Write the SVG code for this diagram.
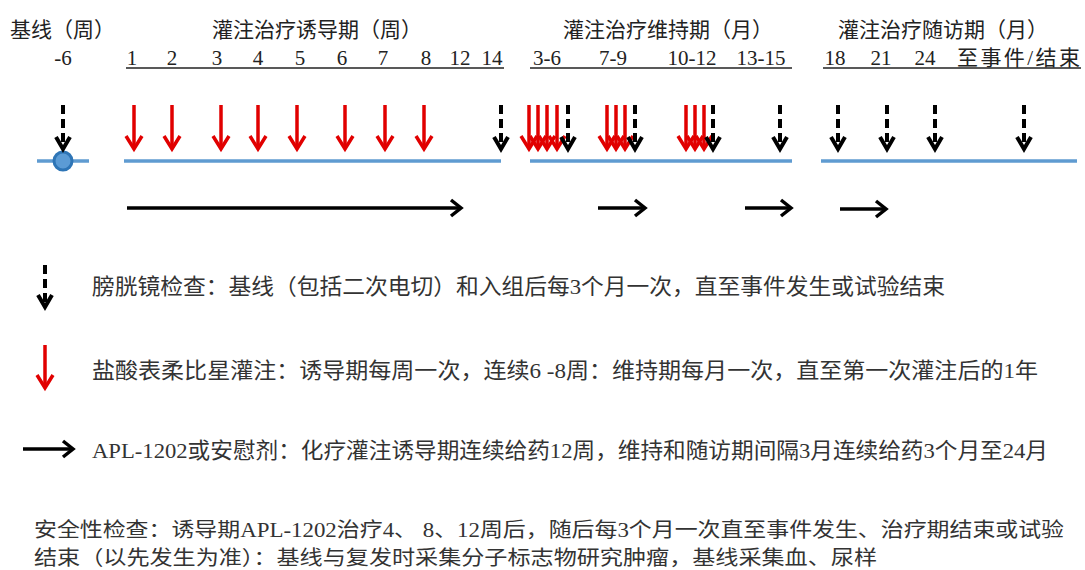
<svg xmlns="http://www.w3.org/2000/svg" width="1085" height="570" viewBox="0 0 1085 570">
<style>
text{font-family:"Liberation Serif","Noto Sans CJK SC",serif;fill:#222}
.h{font-size:21px}
.n{font-size:21px;text-anchor:middle}
.lg{font-size:22px;fill:#333}
.bt{font-size:20px;fill:#333}
.ul{stroke:#222;stroke-width:1.6}
.tl{stroke:#5f9bd1;stroke-width:3.5}
.red{stroke:#e10000;stroke-width:3.5;fill:none}
.blk{stroke:#000;stroke-width:4;fill:none}
.dash{stroke-dasharray:9 5}
.ha{stroke:#000;stroke-width:3.5;fill:none}
</style>
<defs>
<g id="ra"><line class="red" x1="0" y1="105" x2="0" y2="149"/><polyline class="red" points="-8,136 0,149 8,136"/></g>
<g id="da"><line class="blk dash" x1="0" y1="105" x2="0" y2="146"/><polyline class="blk" points="-7,137 0,149 7,137"/></g>
</defs>

<g id="header">
<text class="h" x="10" y="37">基线（周）</text>
<text class="h" x="212" y="37">灌注治疗诱导期（周）</text>
<text class="h" x="563" y="37">灌注治疗维持期（月）</text>
<text class="h" x="838" y="37">灌注治疗随访期（月）</text>
<text class="n" x="63" y="65">-6</text>
<text class="n" x="132" y="65">1</text>
<text class="n" x="172" y="65">2</text>
<text class="n" x="217" y="65">3</text>
<text class="n" x="258" y="65">4</text>
<text class="n" x="300" y="65">5</text>
<text class="n" x="342" y="65">6</text>
<text class="n" x="383" y="65">7</text>
<text class="n" x="426" y="65">8</text>
<text class="n" x="460" y="65">12</text>
<text class="n" x="492" y="65">14</text>
<line class="ul" x1="126" y1="68" x2="504" y2="68"/>
<text class="n" x="547" y="65">3-6</text>
<text class="n" x="613" y="65">7-9</text>
<text class="n" x="692" y="65">10-12</text>
<text class="n" x="761" y="65">13-15</text>
<line class="ul" x1="530" y1="68" x2="792" y2="68"/>
<text class="n" x="835" y="65">18</text>
<text class="n" x="881" y="65">21</text>
<text class="n" x="925" y="65">24</text>
<text class="h" x="957" y="65" textLength="123" lengthAdjust="spacing">至事件/结束</text>
<line class="ul" x1="823" y1="68" x2="1081" y2="68"/>
</g>

<g id="timeline">
<line class="tl" x1="37" y1="161" x2="89" y2="161"/>
<circle cx="63" cy="161" r="9" fill="#5b9bd5" stroke="#2e75b6" stroke-width="3"/>
<line class="tl" x1="124" y1="161" x2="501" y2="161"/>
<line class="tl" x1="530" y1="161" x2="792" y2="161"/>
<line class="tl" x1="821" y1="161" x2="1077" y2="161"/>
</g>

<g id="instillations">
<use href="#ra" x="134"/>
<use href="#ra" x="172"/>
<use href="#ra" x="221"/>
<use href="#ra" x="258"/>
<use href="#ra" x="297"/>
<use href="#ra" x="345"/>
<use href="#ra" x="385"/>
<use href="#ra" x="424"/>
<use href="#ra" x="529"/>
<use href="#ra" x="538"/>
<use href="#ra" x="547"/>
<use href="#ra" x="557"/>
<use href="#ra" x="607"/>
<use href="#ra" x="616"/>
<use href="#ra" x="625"/>
<use href="#ra" x="686"/>
<use href="#ra" x="695"/>
<use href="#ra" x="704"/>
</g>

<g id="cystoscopy">
<use href="#da" x="63"/>
<use href="#da" x="501"/>
<use href="#da" x="568"/>
<use href="#da" x="635"/>
<use href="#da" x="713"/>
<use href="#da" x="780"/>
<use href="#da" x="838"/>
<use href="#da" x="887"/>
<use href="#da" x="935"/>
<use href="#da" x="1024"/>
</g>

<g id="connectors">
<line class="ha" x1="127" y1="208" x2="461" y2="208"/><polyline class="ha" points="451,200 461,208 451,216"/>
<line class="ha" x1="598" y1="208" x2="645" y2="208"/><polyline class="ha" points="635,200 645,208 635,216"/>
<line class="ha" x1="745" y1="208" x2="791" y2="208"/><polyline class="ha" points="781,200 791,208 781,216"/>
<line class="ha" x1="840" y1="209" x2="886" y2="209"/><polyline class="ha" points="876,201 886,209 876,217"/>
</g>

<g id="legend">
<g id="legend-cysto">
<line class="blk dash" x1="45" y1="265" x2="45" y2="303"/><polyline class="blk" points="38,295 45,307 52,295"/>
<text class="lg" x="92" y="294" textLength="853" lengthAdjust="spacingAndGlyphs">膀胱镜检查：基线（包括二次电切）和入组后每3个月一次，直至事件发生或试验结束</text>
</g>
<g id="legend-instill">
<line class="red" x1="45" y1="345" x2="45" y2="388"/><polyline class="red" points="37,375 45,388 53,375"/>
<text class="lg" x="92" y="378" textLength="946" lengthAdjust="spacingAndGlyphs">盐酸表柔比星灌注：诱导期每周一次，连续6 -8周：维持期每月一次，直至第一次灌注后的1年</text>
</g>
<g id="legend-apl">
<line class="ha" x1="23" y1="449" x2="73" y2="449"/><polyline class="ha" points="63,441 73,449 63,457"/>
<text class="lg" x="92" y="458" textLength="956" lengthAdjust="spacingAndGlyphs">APL-1202或安慰剂：化疗灌注诱导期连续给药12周，维持和随访期间隔3月连续给药3个月至24月</text>
</g>
</g>

<g id="safety">
<text class="bt" x="34" y="537" textLength="1030" lengthAdjust="spacingAndGlyphs">安全性检查：诱导期APL-1202治疗4、 8、12周后，随后每3个月一次直至事件发生、治疗期结束或试验</text>
<text class="bt" x="34" y="565" textLength="843" lengthAdjust="spacingAndGlyphs">结束（以先发生为准）：基线与复发时采集分子标志物研究肿瘤，基线采集血、尿样</text>
</g>
</svg>
